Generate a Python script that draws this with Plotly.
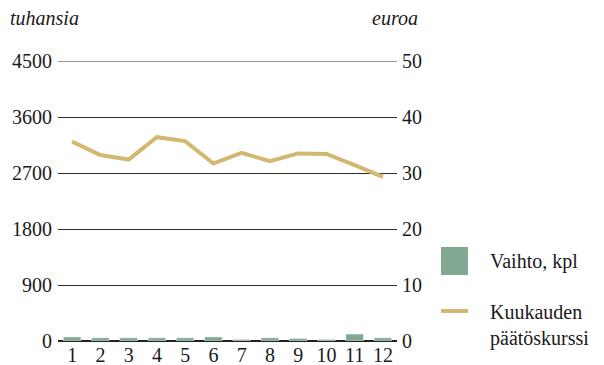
import plotly.graph_objects as go

months = [str(m) for m in range(1, 13)]
vaihto = [64, 50, 50, 50, 50, 64, 25, 50, 39, 25, 111, 50]  # tuhansia kpl
kurssi = [35.6, 33.2, 32.4, 36.4, 35.7, 31.7, 33.6, 32.1, 33.5, 33.4, 31.4, 29.3]  # euroa
left_ticks = [0, 900, 1800, 2700, 3600, 4500]
right_ticks = [0, 10, 20, 30, 40, 50]

BAR_COLOR = "#82A892"
LINE_COLOR = "#D3B872"
GRID = "#2e2e2e"
TXT = dict(family="Times New Roman", size=20, color="#1a1a1a")

OFF = 8  # page body margin
W, H = 596, 357
# plot area in screen pixels: x 58..397, y 61..341
L, T = 58 - OFF, 61 - OFF
R, B = W - (397 - OFF), H - (341 - OFF)


def px_x(x):
    return (x - OFF - L) / (W - L - R)


def px_y(y):
    return (H - B - (y - OFF)) / (H - T - B)


fig = go.Figure()
fig.add_trace(go.Bar(x=months, y=vaihto, marker_color=BAR_COLOR, width=0.62,
                     name="Vaihto, kpl", yaxis="y"))
fig.add_trace(go.Scatter(x=months, y=kurssi, mode="lines", yaxis="y2",
                         line=dict(color=LINE_COLOR, width=4),
                         name="Kuukauden päätöskurssi"))

fig.update_layout(
    width=W, height=H,
    margin=dict(l=L, r=R, t=T, b=B, autoexpand=False),
    plot_bgcolor="white", paper_bgcolor="white",
    showlegend=False,
    font=TXT,
    xaxis=dict(showgrid=False, showline=False, zeroline=False, ticks="",
               automargin=False, ticklabelstandoff=0, tickfont=TXT),
    yaxis=dict(range=[0, 4500], tickvals=left_ticks, showgrid=True,
               gridcolor=GRID, gridwidth=1, zeroline=True,
               zerolinecolor="#222222", zerolinewidth=2, showline=False,
               automargin=False, ticklabelstandoff=5, tickfont=TXT),
    yaxis2=dict(range=[0, 50], tickvals=right_ticks, overlaying="y",
                side="right", showgrid=False, zeroline=False, showline=False,
                automargin=False, ticklabelstandoff=4, tickfont=TXT),
)

# top gridline is not drawn by plotly at the range edge
fig.add_shape(type="line", xref="paper", yref="y", x0=0, x1=1,
              y0=left_ticks[-1], y1=left_ticks[-1], layer="below",
              line=dict(color=GRID, width=1))

# axis unit labels
fig.add_annotation(text="<i>tuhansia</i>", xref="paper", yref="paper",
                   x=px_x(8), y=px_y(18), xanchor="left", yanchor="middle",
                   showarrow=False, font=TXT)
fig.add_annotation(text="<i>euroa</i>", xref="paper", yref="paper",
                   x=px_x(420), y=px_y(18), xanchor="right", yanchor="middle",
                   showarrow=False, font=TXT)

# hand-drawn legend
fig.add_shape(type="rect", xref="paper", yref="paper",
              x0=px_x(441), x1=px_x(468), y0=px_y(275), y1=px_y(247),
              fillcolor=BAR_COLOR, line_width=0)
fig.add_shape(type="line", xref="paper", yref="paper",
              x0=px_x(441), x1=px_x(468), y0=px_y(311), y1=px_y(311),
              line=dict(color=LINE_COLOR, width=4))
fig.add_annotation(text="Vaihto, kpl", xref="paper", yref="paper",
                   x=px_x(488), y=px_y(261), xanchor="left", yanchor="middle",
                   showarrow=False, font=TXT)
fig.add_annotation(text="Kuukauden<br>päätöskurssi", xref="paper", yref="paper",
                   x=px_x(488), y=px_y(325), xanchor="left", yanchor="middle",
                   align="left", showarrow=False, font=TXT)

fig.write_html("out.html")
